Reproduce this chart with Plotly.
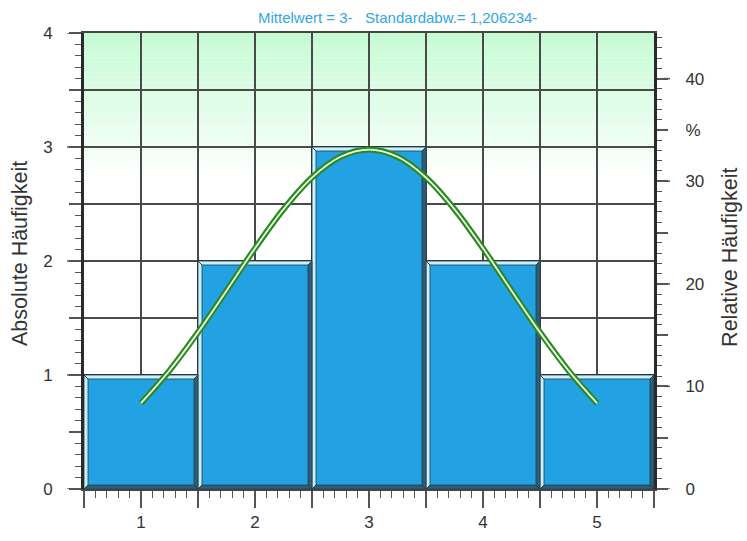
import plotly.graph_objects as go

# ---- data ----
categories = [1, 2, 3, 4, 5]
counts = [1, 2, 3, 2, 1]
curve_x = [1.0, 1.25, 1.5, 1.75, 2.0, 2.25, 2.5, 2.75, 3.0, 3.25, 3.5, 3.75, 4.0, 4.25, 4.5, 4.75, 5.0]
curve_y = [0.753, 1.039, 1.374, 1.740, 2.111, 2.454, 2.732, 2.914, 2.977, 2.914, 2.732, 2.454, 2.111, 1.740, 1.374, 1.039, 0.753]
title_text = "Mittelwert = 3-   Standardabw.= 1,206234-"
y_tickvals = [0, 0.5, 1, 1.5, 2, 2.5, 3, 3.5, 4]
y_ticktext = ["0", "", "1", "", "2", "", "3", "", "4"]
x_tickvals = [0.5, 1, 1.5, 2, 2.5, 3, 3.5, 4, 4.5, 5, 5.5]
x_ticktext = ["", "1", "", "2", "", "3", "", "4", "", "5", ""]
y2_tickvals = [0, 5, 10, 15, 20, 25, 30, 35, 40]
y2_ticktext = ["0", "", "10", "", "20", "", "30", "%", "40"]

total = sum(counts)
ymax = 4
bar_w = 1.0
bev = 0.035
plot_w_px = 570.0

font_family = "Liberation Sans, Arial, sans-serif"
fig = go.Figure()

# gradient background (light green at top fading to white)
top_rgb = (196, 251, 211)
g_lo, g_hi, n_steps = 2.7, 4.0, 30
for i in range(n_steps):
    y0 = g_lo + (g_hi - g_lo) * i / n_steps
    y1 = g_lo + (g_hi - g_lo) * (i + 1) / n_steps
    t = (i + 0.5) / n_steps
    c = tuple(int(round(255 + (tc - 255) * t)) for tc in top_rgb)
    fig.add_shape(type="rect", xref="x", yref="y", x0=0.5, x1=5.5, y0=y0, y1=y1,
                  fillcolor="rgb(%d,%d,%d)" % c, line=dict(width=0), layer="below")

# longer ticks at labelled values (half / 5% ticks stay shorter)
for v, t in zip(y_tickvals, y_ticktext):
    if t:
        fig.add_shape(type="line", xref="paper", yref="y", x0=-17 / plot_w_px, x1=-11 / plot_w_px, y0=v, y1=v,
                      line=dict(color="#555555", width=1.5), layer="above")
for v, t in zip(y2_tickvals, y2_ticktext):
    if t and t != "%":
        fig.add_shape(type="line", xref="paper", yref="y2", x0=1 + 10 / plot_w_px, x1=1 + 16 / plot_w_px, y0=v, y1=v,
                      line=dict(color="#555555", width=1.5), layer="above")

# bars
fig.add_trace(go.Bar(x=categories, y=counts, width=bar_w,
                     marker=dict(color="#22a1e3", line=dict(color="#27343c", width=1)),
                     hoverinfo="skip", showlegend=False))

# bevel faces
lx, ly, dx, dy = [], [], [], []
for c, h in zip(categories, counts):
    x0, x1 = c - bar_w / 2, c + bar_w / 2
    lx += [x0, x1, x1 - bev, x0 + bev, x0, None]
    ly += [h, h, h - bev, h - bev, h, None]
    lx += [x0, x0, x0 + bev, x0 + bev, x0, None]
    ly += [0, h, h - bev, bev, 0, None]
    dx += [x1, x1, x1 - bev, x1 - bev, x1, None]
    dy += [0, h, h - bev, bev, 0, None]
    dx += [x0, x1, x1 - bev, x0 + bev, x0, None]
    dy += [0, 0, bev, bev, 0, None]
fig.add_trace(go.Scatter(x=lx, y=ly, mode="lines", fill="toself", fillcolor="#c8f2fb",
                         line=dict(color="#2a3a44", width=0.8), hoverinfo="skip", showlegend=False))
fig.add_trace(go.Scatter(x=dx, y=dy, mode="lines", fill="toself", fillcolor="#28607c",
                         line=dict(color="#2a3a44", width=0.8), hoverinfo="skip", showlegend=False))

# normal curve (outlined)
fig.add_trace(go.Scatter(x=curve_x, y=curve_y, mode="lines", line=dict(color="#2a8a22", width=6, shape="spline"),
                         hoverinfo="skip", showlegend=False))
fig.add_trace(go.Scatter(x=curve_x, y=curve_y, mode="lines", line=dict(color="#f2fde8", width=1.8, shape="spline"),
                         hoverinfo="skip", showlegend=False))

# invisible trace for right axis
fig.add_trace(go.Scatter(x=[categories[0]], y=[0], yaxis="y2", mode="markers",
                         marker=dict(opacity=0), hoverinfo="skip", showlegend=False))

fig.add_annotation(text=title_text, xref="paper", yref="paper", x=0.55, y=1.033,
                   showarrow=False, font=dict(family=font_family, size=15, color="#33a6e6"),
                   xanchor="center", yanchor="middle")
fig.add_annotation(text="Absolute Häufigkeit", xref="paper", yref="paper", x=-0.1123, y=0.5175,
                   textangle=-90, showarrow=False, font=dict(family=font_family, size=21.5, color="#333333"),
                   xanchor="center", yanchor="middle")
fig.add_annotation(text="Relative Häufigkeit", xref="paper", yref="paper", x=1.1333, y=0.509,
                   textangle=-90, showarrow=False, font=dict(family=font_family, size=21.5, color="#333333"),
                   xanchor="center", yanchor="middle")

tick_font = dict(family=font_family, size=17, color="#333333")
fig.update_layout(
    width=747, height=541,
    margin=dict(l=84, r=93, t=33, b=52, autoexpand=False),
    paper_bgcolor="white", plot_bgcolor="white",
    bargap=0, showlegend=False,
    xaxis=dict(range=[0.5, 5.5], tickmode="array", tickvals=x_tickvals, ticktext=x_ticktext,
               ticks="outside", ticklen=17, tickcolor="#555555", tickwidth=1.5,
               minor=dict(dtick=0.1, tick0=0.5, ticks="outside", ticklen=7, tickcolor="#555555", tickwidth=1.2, showgrid=False),
               showgrid=True, gridcolor="#4a4a4a", gridwidth=1.5, zeroline=False,
               showline=True, linecolor="#444444", linewidth=2, mirror=True, automargin=False,
               tickfont=tick_font, fixedrange=True),
    yaxis=dict(range=[0, ymax], tickmode="array", tickvals=y_tickvals, ticktext=y_ticktext,
               ticks="outside", ticklen=12, tickcolor="#555555", tickwidth=1.5,
               minor=dict(dtick=0.1, tick0=0, ticks="outside", ticklen=6, tickcolor="#555555", tickwidth=1.2, showgrid=False),
               showgrid=True, gridcolor="#4a4a4a", gridwidth=1.5, zeroline=False,
               showline=True, linecolor="#2a2a2a", linewidth=3, automargin=False,
               tickfont=tick_font, ticklabelstandoff=13, fixedrange=True),
    yaxis2=dict(range=[0, ymax * 100 / total], overlaying="y", side="right",
                tickmode="array", tickvals=y2_tickvals, ticktext=y2_ticktext,
                ticks="outside", ticklen=11, tickcolor="#555555", tickwidth=1.5,
                minor=dict(dtick=1, tick0=0, ticks="outside", ticklen=5, tickcolor="#555555", tickwidth=1.2, showgrid=False),
                showgrid=False, zeroline=False, automargin=False,
                showline=True, linecolor="#2a2a2a", linewidth=3,
                tickfont=tick_font, ticklabelstandoff=14, fixedrange=True),
)

fig.write_html("out.html", config={"displayModeBar": False},
               post_script="document.body.style.margin='0px';")
